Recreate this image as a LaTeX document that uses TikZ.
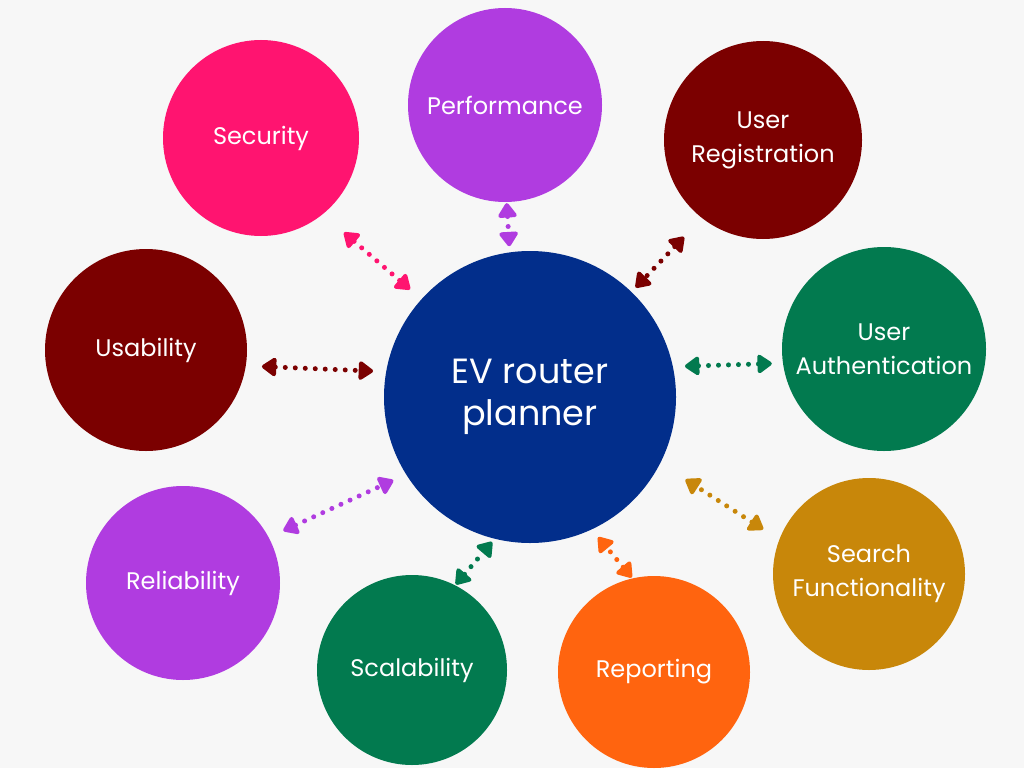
\documentclass[tikz,border=0pt]{standalone}
\usepackage{fontspec}
\setmainfont{Poppins}
\usepackage{tikz}
\usetikzlibrary{arrows.meta,positioning}
\definecolor{bg}{HTML}{F7F7F7}
\definecolor{navy}{HTML}{022E8B}
\definecolor{pink}{HTML}{FF1470}
\definecolor{violet}{HTML}{B03CE0}
\definecolor{maroon}{HTML}{7B0000}
\definecolor{green}{HTML}{027A4F}
\definecolor{orange}{HTML}{FF640F}
\definecolor{gold}{HTML}{C8870A}
\tikzset{
  bubble/.style={circle,inner sep=0pt,text=white,align=center,font=\fontsize{24}{34}\selectfont},
  link/.style={line width=5pt,line cap=round,dash pattern=on 0pt off 10pt,
    {Triangle[round,length=16pt,width=21pt]}-{Triangle[round,length=16pt,width=21pt]}}
}

\begin{document}
\begin{tikzpicture}[x=1pt,y=-1pt]
\fill[bg] (0,0) rectangle (1024,768);
\useasboundingbox (0,0) rectangle (1024,768);

\node[bubble,fill=navy,minimum size=292pt,font=\fontsize{35}{42}\selectfont] (ev) at (530,397) {EV router\\planner};
\node[bubble,fill=violet,minimum size=194pt] (perf) at (505,105) {Performance};
\node[bubble,fill=pink,minimum size=196pt] (sec) at (261,138) {Security};
\node[bubble,fill=maroon,minimum size=198pt] (reg) at (763,140) {User\\Registration};
\node[bubble,fill=maroon,minimum size=202pt] (usa) at (146,350) {Usability};
\node[bubble,fill=green,minimum size=204pt] (auth) at (884,349) {User\\Authentication};
\node[bubble,fill=violet,minimum size=194pt] (rel) at (183,583) {Reliability};
\node[bubble,fill=green,minimum size=190pt] (sca) at (412,670) {Scalability};
\node[bubble,fill=orange,minimum size=192pt] (rep) at (654,672) {Reporting};
\node[bubble,fill=gold,minimum size=192pt] (sea) at (869,574) {Search\\Functionality};

\draw[link,color=violet,shorten <=1pt,shorten >=6pt] (perf.-89) -- (ev.98);
\draw[link,color=pink,shorten <=28pt,shorten >=15pt] (sec.-51) -- (ev.138);
\draw[link,color=maroon,shorten <=26pt,shorten >=6pt] (reg.-128) -- (ev.46);
\draw[link,color=maroon,shorten <=16pt,shorten >=13pt] (usa.-9) -- (ev.170);
\draw[link,color=green,shorten <=11pt,shorten >=12pt] (auth.-172) -- (ev.12);
\draw[link,color=violet,shorten <=16pt,shorten >=14pt] (rel.28) -- (ev.-148);
\draw[link,color=green,shorten <=1pt,shorten >=4pt] (sca.63) -- (ev.-104);
\draw[link,color=orange,shorten <=1pt,shorten >=10pt] (rep.103) -- (ev.-65);
\draw[link,color=gold,shorten <=19pt,shorten >=30pt] (sea.159) -- (ev.-27);
\end{tikzpicture}
\end{document}
